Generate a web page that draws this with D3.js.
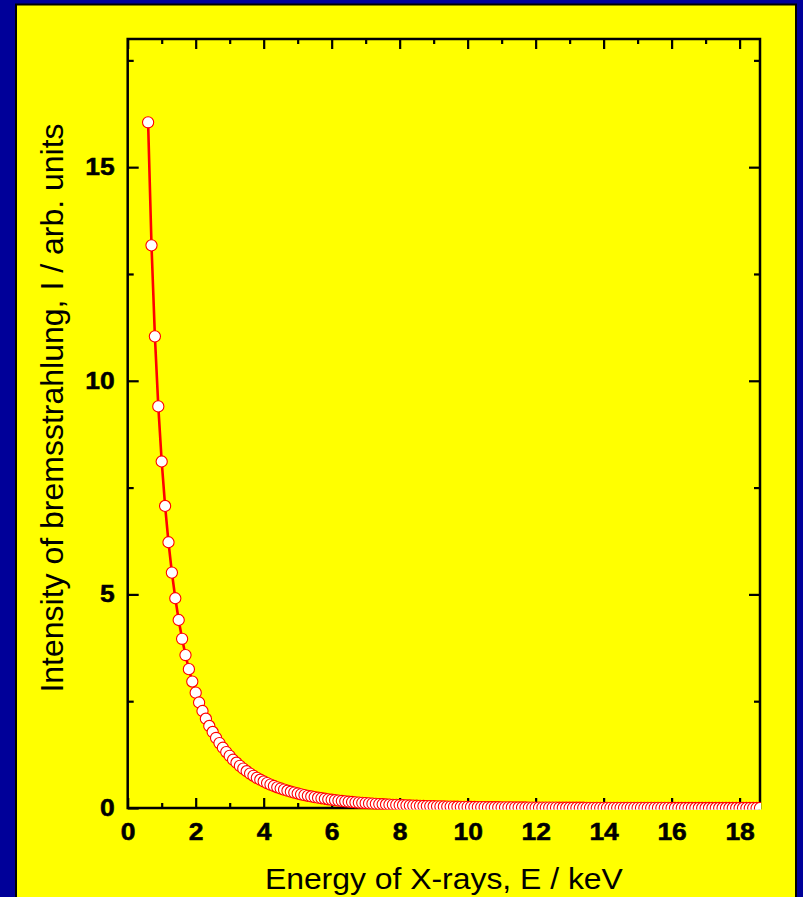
<!DOCTYPE html>
<html>
<head>
<meta charset="utf-8">
<script src="https://cdn.jsdelivr.net/npm/d3@7"></script>
<style>
  html, body { margin: 0; padding: 0; background: #000099; }
  svg { display: block; }
</style>
</head>
<body>
<svg id="chart" width="803" height="897"></svg>
<script>
// Photon energy of the sampled spectrum, keV
const energies = [
  0.6, 0.7, 0.8, 0.9,
  1.0, 1.1, 1.2, 1.3, 1.4, 1.5, 1.6, 1.7, 1.8, 1.9,
  2.0, 2.1, 2.2, 2.3, 2.4, 2.5, 2.6, 2.7, 2.8, 2.9,
  3.0, 3.1, 3.2, 3.3, 3.4, 3.5, 3.6, 3.7, 3.8, 3.9,
  4.0, 4.1, 4.2, 4.3, 4.4, 4.5, 4.6, 4.7, 4.8, 4.9,
  5.0, 5.1, 5.2, 5.3, 5.4, 5.5, 5.6, 5.7, 5.8, 5.9,
  6.0, 6.1, 6.2, 6.3, 6.4, 6.5, 6.6, 6.7, 6.8, 6.9,
  7.0, 7.1, 7.2, 7.3, 7.4, 7.5, 7.6, 7.7, 7.8, 7.9,
  8.0, 8.1, 8.2, 8.3, 8.4, 8.5, 8.6, 8.7, 8.8, 8.9,
  9.0, 9.1, 9.2, 9.3, 9.4, 9.5, 9.6, 9.7, 9.8, 9.9,
  10.0, 10.1, 10.2, 10.3, 10.4, 10.5, 10.6, 10.7, 10.8, 10.9,
  11.0, 11.1, 11.2, 11.3, 11.4, 11.5, 11.6, 11.7, 11.8, 11.9,
  12.0, 12.1, 12.2, 12.3, 12.4, 12.5, 12.6, 12.7, 12.8, 12.9,
  13.0, 13.1, 13.2, 13.3, 13.4, 13.5, 13.6, 13.7, 13.8, 13.9,
  14.0, 14.1, 14.2, 14.3, 14.4, 14.5, 14.6, 14.7, 14.8, 14.9,
  15.0, 15.1, 15.2, 15.3, 15.4, 15.5, 15.6, 15.7, 15.8, 15.9,
  16.0, 16.1, 16.2, 16.3, 16.4, 16.5, 16.6, 16.7, 16.8, 16.9,
  17.0, 17.1, 17.2, 17.3, 17.4, 17.5, 17.6, 17.7, 17.8, 17.9,
  18.0, 18.1, 18.2, 18.3, 18.4, 18.5, 18.6
];

// Bremsstrahlung intensity at each energy, arb. units
const intensity = [
  16.05, 13.17, 11.04, 9.40,
  8.11, 7.07, 6.22, 5.51, 4.91, 4.40, 3.96, 3.58, 3.25, 2.96,
  2.70, 2.47, 2.27, 2.09, 1.92, 1.78, 1.64, 1.52, 1.41, 1.31,
  1.22, 1.13, 1.06, 0.986, 0.921, 0.861, 0.805, 0.754, 0.706, 0.662,
  0.621, 0.583, 0.548, 0.515, 0.485, 0.456, 0.430, 0.405, 0.381, 0.360,
  0.339, 0.320, 0.302, 0.286, 0.270, 0.255, 0.241, 0.228, 0.216, 0.204,
  0.193, 0.183, 0.174, 0.164, 0.156, 0.148, 0.140, 0.133, 0.126, 0.120,
  0.114, 0.108, 0.102, 0.097, 0.092, 0.088, 0.083, 0.079, 0.075, 0.072,
  0.068, 0.065, 0.062, 0.059, 0.056, 0.053, 0.051, 0.048, 0.046, 0.044,
  0.042, 0.040, 0.038, 0.036, 0.034, 0.033, 0.031, 0.030, 0.028, 0.027,
  0.026, 0.025, 0.023, 0.022, 0.021, 0.020, 0.019, 0.018, 0.018, 0.017,
  0.016, 0.015, 0.015, 0.014, 0.013, 0.013, 0.012, 0.012, 0.011, 0.011,
  0.010, 0.0096, 0.0092, 0.0088, 0.0084, 0.0080, 0.0077, 0.0073, 0.0070, 0.0067,
  0.0064, 0.0061, 0.0058, 0.0056, 0.0053, 0.0051, 0.0049, 0.0047, 0.0045, 0.0043,
  0.0041, 0.0039, 0.0037, 0.0036, 0.0034, 0.0033, 0.0031, 0.0030, 0.0029, 0.0027,
  0.0026, 0.0025, 0.0024, 0.0023, 0.0022, 0.0021, 0.0020, 0.0019, 0.0018, 0.0018,
  0.0017, 0.0016, 0.0015, 0.0015, 0.0014, 0.0013, 0.0013, 0.0012, 0.0012, 0.0011,
  0.0011, 0.0010, 0.0010, 0.0009, 0.0009, 0.0009, 0.0008, 0.0008, 0.0008, 0.0007,
  0.0007, 0.0007, 0.0006, 0.0006, 0.0006, 0.0006, 0.0005
];

// Axis ticks
const xMajorTicks = [0, 2, 4, 6, 8, 10, 12, 14, 16, 18];
const xMinorTicks = [1, 3, 5, 7, 9, 11, 13, 15, 17];
const yMajorTicks = [0, 5, 10, 15];
const yMinorTicks = [2.5, 7.5, 12.5, 17.5];

const xTitle = "Energy of X-rays, E / keV";
const yTitle = "Intensity of bremsstrahlung, I / arb. units";

const points = energies.map((e, i) => ({ e, v: intensity[i] }));

const svg = d3.select("#chart");
const W = 803, H = 897;
const plotL = 127.7, plotR = 760, plotT = 39, plotB = 808;

// Page background and yellow panel
svg.append("rect").attr("width", W).attr("height", H).attr("fill", "#000099");
svg.append("rect")
  .attr("x", 16).attr("y", 4.5).attr("width", 780).attr("height", 905)
  .attr("fill", "#ffff00").attr("stroke", "#000").attr("stroke-width", 2);

const x = d3.scaleLinear().domain([0, 18.6]).range([plotL, plotR]);
const y = d3.scaleLinear().domain([0, 18]).range([plotB, plotT]);

const font = "'Liberation Sans', Arial, Helvetica, sans-serif";
const labelStretch = 1.15;   // wide heavy tick numerals

function styleAxis(g, labels) {
  g.select(".domain").remove();
  g.selectAll(".tick line").attr("stroke", "#000").attr("stroke-width", 2.2);
  if (!labels) { g.selectAll(".tick text").remove(); return; }
  g.selectAll(".tick text")
    .attr("fill", "#000")
    .attr("stroke", "#000")
    .attr("stroke-width", 0.5)
    .attr("font-family", font)
    .attr("font-weight", "bold")
    .attr("font-size", 23)
    .attr("transform", `scale(${labelStretch},1)`);
}

// Bottom axis: labelled majors + minors
svg.append("g").attr("transform", `translate(0,${plotB})`)
  .call(d3.axisBottom(x).tickValues(xMajorTicks).tickFormat(d3.format("d"))
    .tickSizeInner(-10).tickSizeOuter(0).tickPadding(16))
  .call(g => styleAxis(g, true));
svg.append("g").attr("transform", `translate(0,${plotB})`)
  .call(d3.axisBottom(x).tickValues(xMinorTicks).tickSizeInner(-5).tickSizeOuter(0))
  .call(g => styleAxis(g, false));

// Top axis: mirror ticks
svg.append("g").attr("transform", `translate(0,${plotT})`)
  .call(d3.axisTop(x).tickValues(xMajorTicks).tickSizeInner(-10).tickSizeOuter(0))
  .call(g => styleAxis(g, false));
svg.append("g").attr("transform", `translate(0,${plotT})`)
  .call(d3.axisTop(x).tickValues(xMinorTicks).tickSizeInner(-5).tickSizeOuter(0))
  .call(g => styleAxis(g, false));

// Left axis: labelled majors + minors
svg.append("g").attr("transform", `translate(${plotL},0)`)
  .call(d3.axisLeft(y).tickValues(yMajorTicks).tickFormat(d3.format("d"))
    .tickSizeInner(-11).tickSizeOuter(0).tickPadding(13))
  .call(g => styleAxis(g, true))
  .call(g => g.selectAll(".tick text").attr("x", -13 / labelStretch));
svg.append("g").attr("transform", `translate(${plotL},0)`)
  .call(d3.axisLeft(y).tickValues(yMinorTicks).tickSizeInner(-6).tickSizeOuter(0))
  .call(g => styleAxis(g, false));

// Right axis: mirror ticks
svg.append("g").attr("transform", `translate(${plotR},0)`)
  .call(d3.axisRight(y).tickValues(yMajorTicks).tickSizeInner(-11).tickSizeOuter(0))
  .call(g => styleAxis(g, false));
svg.append("g").attr("transform", `translate(${plotR},0)`)
  .call(d3.axisRight(y).tickValues(yMinorTicks).tickSizeInner(-6).tickSizeOuter(0))
  .call(g => styleAxis(g, false));

// Plot frame
svg.append("rect")
  .attr("x", plotL).attr("y", plotT)
  .attr("width", plotR - plotL).attr("height", plotB - plotT)
  .attr("fill", "none").attr("stroke", "#000").attr("stroke-width", 2.5);

// Clip the data to the frame
svg.append("clipPath").attr("id", "plot-clip")
  .append("rect")
  .attr("x", plotL - 1).attr("y", plotT - 1)
  .attr("width", plotR - plotL + 2).attr("height", plotB - plotT + 2.5);

const data = svg.append("g").attr("clip-path", "url(#plot-clip)");

data.append("path")
  .datum(points)
  .attr("fill", "none")
  .attr("stroke", "#ff0000")
  .attr("stroke-width", 2.6)
  .attr("d", d3.line().x(d => x(d.e)).y(d => y(d.v)));

data.selectAll("circle")
  .data(points)
  .join("circle")
  .attr("cx", d => x(d.e))
  .attr("cy", d => y(d.v))
  .attr("r", 5.6)
  .attr("fill", "#ffffff")
  .attr("stroke", "#ff0000")
  .attr("stroke-width", 1.1);

// Axis titles
svg.append("text")
  .attr("transform", `translate(${(plotL + plotR) / 2},889) scale(1.1,1)`)
  .attr("text-anchor", "middle")
  .attr("font-family", font).attr("font-size", 29)
  .attr("fill", "#000")
  .text(xTitle);

svg.append("text")
  .attr("transform", `translate(63,408) rotate(-90)`)
  .attr("text-anchor", "middle")
  .attr("font-family", font).attr("font-size", 32)
  .attr("fill", "#000")
  .text(yTitle);
</script>
</body>
</html>
